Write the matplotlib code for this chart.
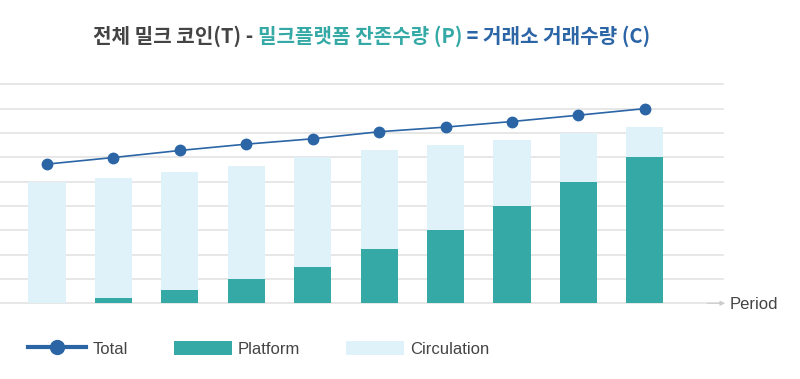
import numpy as np
import matplotlib
matplotlib.use("Agg")
from matplotlib import pyplot as plt
from matplotlib.lines import Line2D
from matplotlib.patches import Patch

# data (in gridline units)
periods = np.arange(10)
total = [5.72, 5.99, 6.28, 6.54, 6.76, 7.05, 7.24, 7.47, 7.73, 8.0]
platform = [0.0, 0.22, 0.53, 1.0, 1.49, 2.25, 3.01, 4.01, 5.0, 6.01]
bar_top = [5.0, 5.15, 5.39, 5.66, 6.0, 6.29, 6.52, 6.72, 7.0, 7.25]
circulation = [t - p for t, p in zip(bar_top, platform)]

title_parts = ["전체 밀크 코인(T) - ", "밀크플랫폼 잔존수량 (P)", " = 거래소 거래수량 (C)"]
legend_labels = ["Total", "Platform", "Circulation"]

c_line = "#2b65a5"
c_plat = "#35a9a5"
c_circ = "#dff2f9"
c_grid = "#e3e3e3"
c_text = "#444444"

plt.rcParams['font.family'] = ['Liberation Sans', 'DejaVu Sans']

fig = plt.figure(figsize=(8, 3.79), dpi=100)
ax = fig.add_axes([0.0, 0.1998, 0.904, 0.5778])

ax.bar(periods, platform, width=0.56, color=c_plat, zorder=2)
ax.bar(periods, circulation, bottom=platform, width=0.56, color=c_circ, zorder=2)
ax.plot(periods, total, color=c_line, lw=1.2, marker='o', ms=7.5, zorder=3)

ax.set_xlim(-0.708, 10.18)
ax.set_ylim(0, 9)
for y in range(0, 10):
    ax.axhline(y, color=c_grid, lw=1.2, zorder=1, clip_on=False)
for s in ax.spines.values():
    s.set_visible(False)
ax.set_xticks([])
ax.set_yticks([])

# axis arrow + label
ax.annotate('', xy=(10.25, 0), xytext=(9.9, 0), xycoords='data',
            arrowprops=dict(arrowstyle='-|>', color='#cccccc', lw=0.8,
                            mutation_scale=7), annotation_clip=False)
fig.text(0.912, 0.197, "Period", fontsize=12, color=c_text, va='center')

# title with colored parts
cjk = ['Noto Sans CJK KR', 'DejaVu Sans']
colors = [c_text, c_plat, c_line]
x = 0.116
for part, col in zip(title_parts, colors):
    t = fig.text(x, 0.905, part, fontsize=14.5, color=col, family=cjk,
                 fontweight='bold', va='center')
    fig.canvas.draw()
    bb = t.get_window_extent()
    x = bb.x1 / fig.bbox.width

handles = [
    Line2D([0], [0], color=c_line, lw=3, marker='o', ms=10),
    Patch(facecolor=c_plat),
    Patch(facecolor=c_circ),
]
fig.legend(handles, legend_labels, loc='center left', bbox_to_anchor=(0.035, 0.08),
           ncol=3, frameon=False, fontsize=12, labelcolor=c_text,
           borderaxespad=0, borderpad=0,
           handlelength=3.5, handleheight=0.9, handletextpad=0.36, columnspacing=2.75)

fig.savefig("out.png", dpi=100)
